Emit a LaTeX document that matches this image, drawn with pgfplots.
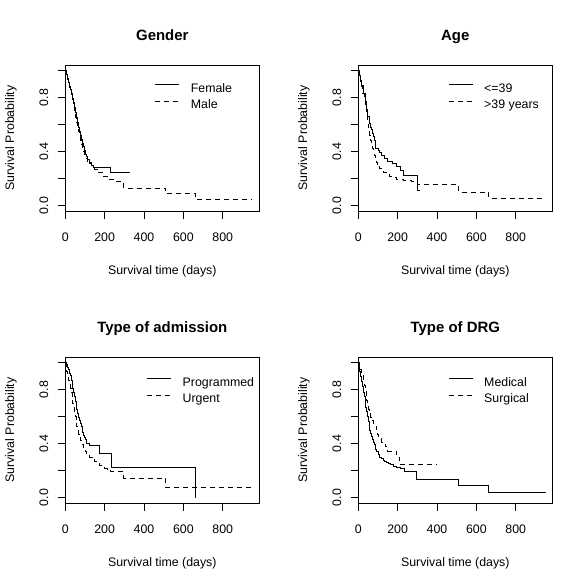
\documentclass[border=0pt]{standalone}
\usepackage{fontspec}
\setmainfont{Liberation Sans}
\usepackage{pgfplots}
\pgfplotsset{compat=1.18}

\pgfplotsset{
  km/.style={
    scale only axis, width=194bp, height=146bp,
    xmin=0, xmax=986, ymin=-0.04, ymax=1.04,
    axis line style={line width=0.9bp},
    xtick={0,200,400,600,800}, xticklabels={0,200,400,600,800},
    ytick={0,0.2,0.4,0.6,0.8,1}, yticklabels={0.0,,0.4,,0.8,},
    tick align=outside, tick pos=left,
    major tick length=7.5bp,
    tick style={line width=0.9bp, black},
    ticklabel style={font=\fontsize{12.4}{14}\selectfont},
    xticklabel style={anchor=base, inner sep=0pt},
    yticklabel style={rotate=90, anchor=base, inner sep=0pt},
    xticklabel shift=22.8bp,
    yticklabel shift=9.8bp,
    label style={font=\fontsize{12.4}{14}\selectfont},
    xlabel={Survival time (days)},
    ylabel={Survival Probability},
    xlabel style={at={(axis description cs:0.5,-0.4315)}, anchor=base, inner sep=0pt},
    ylabel style={at={(axis description cs:-0.2644,0.5)}, anchor=base, inner sep=0pt},
    title style={at={(axis description cs:0.5,1.13)}, anchor=base, inner sep=0pt, font=\bfseries\fontsize{15}{18}\selectfont},
    legend cell align=left,
    legend style={draw=none, fill=none, inner sep=0pt, outer sep=0pt,
      anchor=north west, row sep=4.3bp, column sep=11bp,
      nodes={inner sep=0pt, text height=9bp, text depth=3bp, font=\fontsize{12.4}{14}\selectfont}},
    legend image code/.code={\draw[#1] (0bp,4.3bp) -- (24bp,4.3bp);},
    cycle list={{black, solid},{black, dash pattern=on 5bp off 4bp}},
    every axis plot/.append style={const plot, line width=0.9bp, no marks},
  },
}

\pgfplotstableread{
t s
0 1
5 0.97
10 0.94
15 0.91
20 0.885
25 0.86
30 0.83
35 0.795
40 0.76
45 0.725
50 0.69
55 0.65
60 0.615
65 0.58
70 0.55
75 0.52
80 0.49
85 0.46
90 0.435
95 0.405
100 0.38
106 0.36
113 0.34
122 0.32
132 0.30
142 0.285
232 0.245
330 0.245
}\female
\pgfplotstableread{
t s
0 1
4 0.965
9 0.935
14 0.905
19 0.875
24 0.85
29 0.82
34 0.785
39 0.75
44 0.72
49 0.685
54 0.65
59 0.615
64 0.58
69 0.55
74 0.515
79 0.485
84 0.455
89 0.425
94 0.40
99 0.375
105 0.35
112 0.33
122 0.31
135 0.29
150 0.27
170 0.245
190 0.215
225 0.195
255 0.178
297 0.13
510 0.087
661 0.047
950 0.047
}\male
\pgfplotstableread{
t s
0 1
6 0.96
12 0.92
17 0.89
25 0.83
34 0.77
42 0.71
49 0.66
56 0.61
62 0.58
68 0.56
72 0.535
76 0.51
80 0.485
85 0.44
88 0.42
100 0.41
110 0.39
120 0.37
135 0.35
150 0.33
175 0.31
195 0.29
212 0.26
229 0.225
300 0.114
315 0.114
}\young
\pgfplotstableread{
t s
0 1
5 0.96
10 0.925
17 0.88
23 0.83
30 0.78
35 0.74
39 0.71
43 0.67
46 0.63
50 0.595
54 0.56
58 0.52
63 0.485
67 0.45
71 0.42
76 0.39
80 0.37
85 0.345
90 0.32
96 0.30
102 0.29
110 0.275
119 0.26
130 0.245
144 0.23
160 0.215
178 0.205
195 0.195
229 0.183
271 0.176
300 0.158
510 0.10
663 0.055
950 0.055
}\old
\pgfplotstableread{
t s
0 1
5 0.985
10 0.965
15 0.945
20 0.92
25 0.9
30 0.87
34 0.84
38 0.81
42 0.78
47 0.745
51 0.71
55 0.68
59 0.65
64 0.62
68 0.59
72 0.57
76 0.55
81 0.525
85 0.50
89 0.48
93 0.46
98 0.445
102 0.43
106 0.415
110 0.40
122 0.387
175 0.325
235 0.22
661 0.0
}\programmed
\pgfplotstableread{
t s
0 1
4 0.96
8 0.93
13 0.9
17 0.87
21 0.84
25 0.81
30 0.775
34 0.74
38 0.70
42 0.665
47 0.63
51 0.60
55 0.565
59 0.53
64 0.50
68 0.47
72 0.445
76 0.42
85 0.39
93 0.36
102 0.34
110 0.32
123 0.30
136 0.28
148 0.265
161 0.255
175 0.24
186 0.23
200 0.215
212 0.21
229 0.195
297 0.144
510 0.074
950 0.074
}\urgent
\pgfplotstableread{
t s
0 1
4 0.965
8 0.93
12 0.895
17 0.86
21 0.82
25 0.78
30 0.745
34 0.71
38 0.67
42 0.635
47 0.60
51 0.56
55 0.53
59 0.50
64 0.475
68 0.45
72 0.43
76 0.41
81 0.39
85 0.375
89 0.355
93 0.34
102 0.32
110 0.30
118 0.288
127 0.275
135 0.265
144 0.26
152 0.25
161 0.243
178 0.233
195 0.222
212 0.213
237 0.194
297 0.134
510 0.088
663 0.04
955 0.04
}\medical
\pgfplotstableread{
t s
0 1
6 0.975
12 0.945
17 0.92
22 0.90
26 0.865
30 0.83
34 0.795
39 0.76
43 0.72
47 0.685
52 0.65
56 0.62
62 0.595
68 0.57
76 0.55
85 0.53
93 0.49
98 0.465
102 0.44
119 0.41
136 0.38
150 0.345
195 0.30
210 0.245
400 0.245
}\surgical

\begin{document}
\begin{tikzpicture}
\path[use as bounding box] (0,0) rectangle (586bp,-585bp);

\begin{axis}[km, at={(65.3bp,-65bp)}, anchor=north west, title={Gender},
  legend style={at={(0.4624,0.876)}}]
\addplot table[x=t,y=s] {\female};
\addplot table[x=t,y=s] {\male};
\legend{Female,Male}
\end{axis}

\begin{axis}[km, at={(358.3bp,-65bp)}, anchor=north west, title={Age},
  legend style={at={(0.464,0.876)}}]
\addplot table[x=t,y=s] {\young};
\addplot table[x=t,y=s] {\old};
\legend{<=39,>39 years}
\end{axis}

\begin{axis}[km, at={(65.3bp,-357bp)}, anchor=north west, title={Type of admission},
  legend style={at={(0.42,0.862)}}]
\addplot table[x=t,y=s] {\programmed};
\addplot table[x=t,y=s] {\urgent};
\legend{Programmed,Urgent}
\end{axis}

\begin{axis}[km, at={(358.3bp,-357bp)}, anchor=north west, title={Type of DRG},
  legend style={at={(0.464,0.862)}}]
\addplot table[x=t,y=s] {\medical};
\addplot table[x=t,y=s] {\surgical};
\legend{Medical,Surgical}
\end{axis}
\end{tikzpicture}
\end{document}
